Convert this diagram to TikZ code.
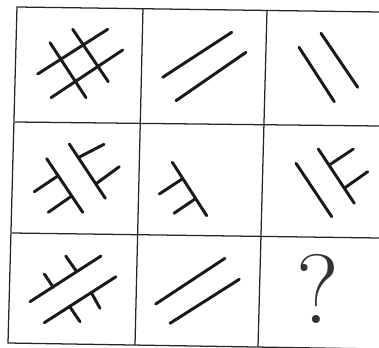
\documentclass[tikz,border=0pt]{standalone}
\usepackage{tikz}
\usetikzlibrary{calc}

\begin{document}
\begin{tikzpicture}[x=0.025cm, y=-0.025cm,
gridline/.style={line width=0.9pt, draw=black!85},
stroke/.style={line width=2.1pt, line cap=round, draw=black!90},
qmark/.style={font=\fontsize{70}{72}\selectfont, inner sep=0pt, text=black!80}
]

\useasboundingbox (0,0) rectangle (379,347);

% grid (scan is slightly tilted)
\coordinate (tl) at (17,7);
\coordinate (tr) at (379,12);
\coordinate (bl) at (8,343);
\coordinate (br) at (379,349);
\coordinate (v1t) at (143,8);
\coordinate (v1b) at (135,345);
\coordinate (v2t) at (267,10);
\coordinate (v2b) at (258,347);
\coordinate (h1l) at (15,122);
\coordinate (h1r) at (379,126);
\coordinate (h2l) at (12,233);
\coordinate (h2r) at (379,238);

\draw[gridline] (tr) -- (tl) -- (bl) -- (br);
\draw[gridline] (v1t) -- (v1b);
\draw[gridline] (v2t) -- (v2b);
\draw[gridline] (h1l) -- (h1r);
\draw[gridline] (h2l) -- (h2r);

% row 1
\draw[stroke] (37.7,74) -- (107.7,29.3);
\draw[stroke] (51,97.7) -- (122.7,50);
\draw[stroke] (50,42.7) -- (86,97.7);
\draw[stroke] (72.7,29.3) -- (108.3,81.7);

\draw[stroke] (162.7,77.3) -- (231.7,32.3);
\draw[stroke] (176,100.7) -- (246,52.3);

\draw[stroke] (299,47.3) -- (334.3,101.7);
\draw[stroke] (321,33.3) -- (357.7,87.3);

% row 2
\draw[stroke] (46.7,158.7) -- (82.7,212.3);
\draw[stroke] (69.3,144) -- (105.3,198.3);
\draw[stroke] (34.3,191.7) -- (56.7,176.7);
\draw[stroke] (48.3,212.3) -- (70.7,196.7);
\draw[stroke] (80,156.7) -- (104,144.3);
\draw[stroke] (96.7,183.3) -- (119.3,166.7);

\draw[stroke] (172.3,162.3) -- (206.7,215.7);
\draw[stroke] (159.3,194) -- (181.7,179.3);
\draw[stroke] (174,213.3) -- (195,199);

\draw[stroke] (296,163.3) -- (331.7,216.7);
\draw[stroke] (318.3,149) -- (354.3,203.3);
\draw[stroke] (329.3,165) -- (353.3,149);
\draw[stroke] (345,187.7) -- (367.7,171.7);

% row 3
\draw[stroke] (30,301.7) -- (101,256);
\draw[stroke] (44.3,322.7) -- (116,276.7);
\draw[stroke] (44.3,274) -- (53.3,287.3);
\draw[stroke] (65.7,256) -- (76,270.7);
\draw[stroke] (69.3,306) -- (80,321.7);
\draw[stroke] (91.7,293.3) -- (100,308.3);

\draw[stroke] (155.7,304) -- (225,258.3);
\draw[stroke] (170,323.3) -- (239.3,279.3);

\node[qmark] (q) at (318,289) {?};

\end{tikzpicture}
\end{document}
